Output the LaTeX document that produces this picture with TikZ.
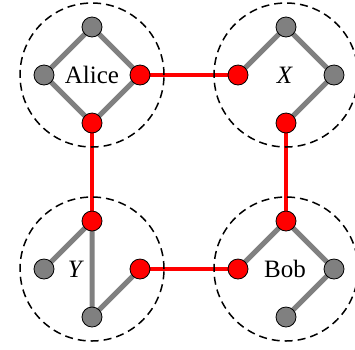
\documentclass[tikz,border=0pt]{standalone}
\usepackage{fontspec}
\setmainfont{Liberation Serif}
\usetikzlibrary{backgrounds}
\begin{document}
\begin{tikzpicture}[x=1pt,y=-1pt,
  gnode/.style={circle,draw=black,line width=0.8pt,fill=gray,minimum size=20pt,inner sep=0pt},
  rnode/.style={circle,draw=black,line width=0.8pt,fill=red,minimum size=20pt,inner sep=0pt},
  gedge/.style={draw=gray,line width=5pt},
  redge/.style={draw=red,line width=4.8pt},
  party/.style={circle,draw=black,dash pattern=on 8pt off 5pt,line width=1.5pt,minimum size=144pt,inner sep=0pt},
  lbl/.style={font=\fontsize{25}{30}\selectfont,inner sep=0pt}]
\useasboundingbox (0,0) rectangle (355,349);
% Alice
\node[lbl] (alice) at (92,75) {Alice};
\node[gnode] (at) at (92,27) {};
\node[gnode] (al) at (44,75) {};
\node[rnode] (ar) at (140,75) {};
\node[rnode] (ab) at (92,123) {};
% X
\node[lbl] (xl) at (285,75) {\textit{X}};
\node[rnode] (xleft) at (238,75) {};
\node[gnode] (xt) at (286,27) {};
\node[gnode] (xr) at (334,75) {};
\node[rnode] (xb) at (286,123) {};
% Y
\node[lbl] (yl) at (76,269) {\textit{Y}};
\node[rnode] (yt) at (92,221) {};
\node[gnode] (yleft) at (44,269) {};
\node[rnode] (yr) at (140,269) {};
\node[gnode] (yb) at (92,317) {};
% Bob
\node[lbl] (bob) at (285,269) {Bob};
\node[rnode] (bt) at (286,221) {};
\node[rnode] (bl) at (238,269) {};
\node[gnode] (br) at (334,269) {};
\node[gnode] (bb) at (286,317) {};
\begin{pgfonlayer}{background}
% gray edges
\path[gedge] (at.center) -- (ar.center) -- (ab.center) -- (al.center) -- cycle;
\path[gedge] (xleft.center) -- (xt.center) -- (xr.center) -- (xb.center);
\path[gedge] (yleft.center) -- (yt.center) -- (yb.center) -- (yr.center);
\path[gedge] (bl.center) -- (bt.center) -- (br.center) -- (bb.center);
% red edges
\path[redge] (ar.center) -- (xleft.center);
\path[redge] (ab.center) -- (yt.center);
\path[redge] (xb.center) -- (bt.center);
\path[redge] (yr.center) -- (bl.center);
\end{pgfonlayer}
% circles
\node[party] (pa) at (92,75) {};
\node[party] (px) at (286,75) {};
\node[party] (py) at (92,269) {};
\node[party] (pb) at (286,269) {};
\end{tikzpicture}
\end{document}
